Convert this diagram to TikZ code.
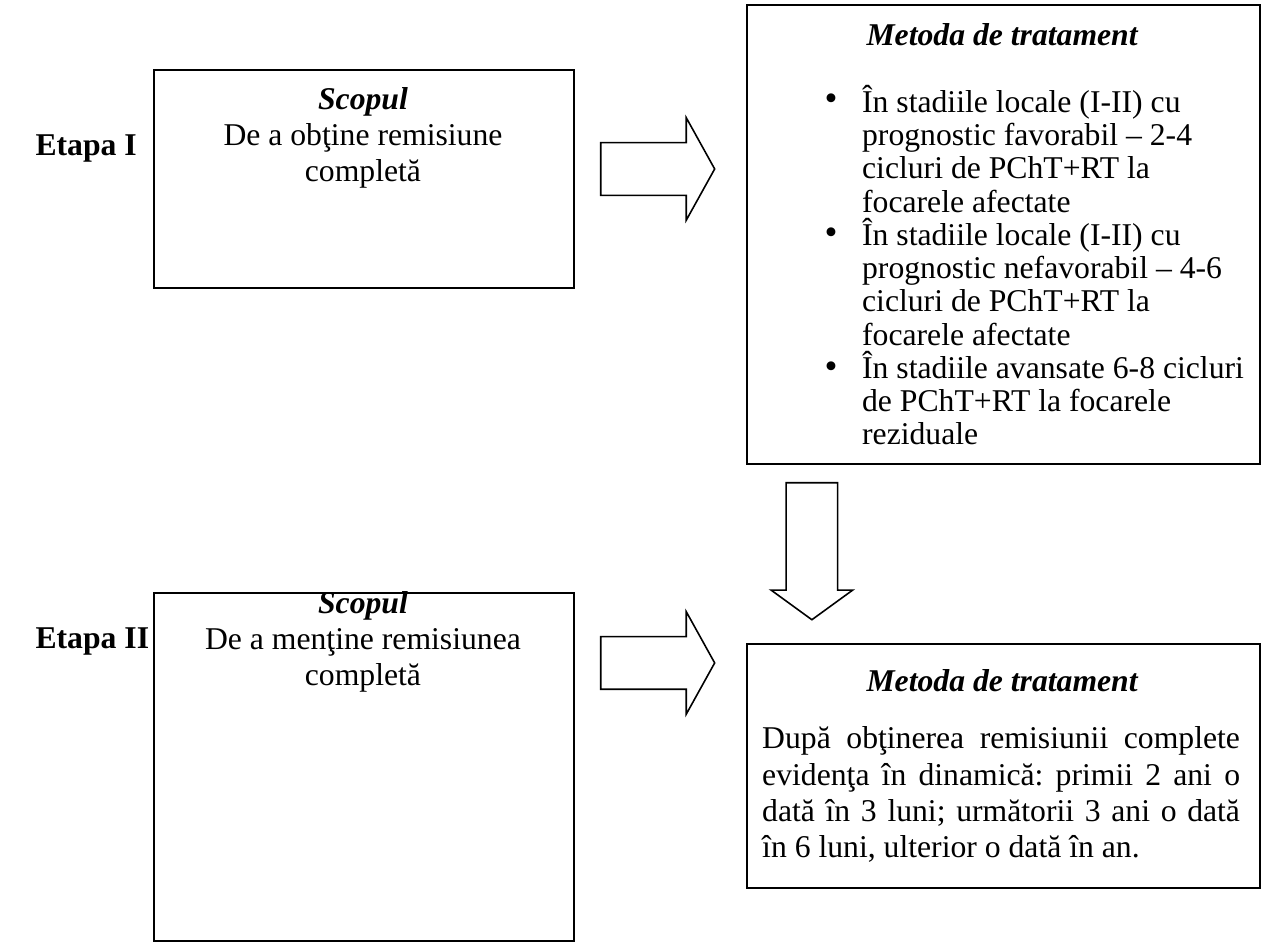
\documentclass[tikz,border=0pt]{standalone}
\usepackage{fontspec}
\setmainfont{Liberation Serif}
\usetikzlibrary{calc,positioning,shapes.arrows}
\frenchspacing

\begin{document}
\begin{tikzpicture}[
    every node/.style={font=\fontsize{12}{13.8}\selectfont, inner sep=0pt},
    box/.style={draw, line width=0.75pt, rectangle, minimum width=5.59cm, anchor=north west},
    widebox/.style={box, minimum width=6.83cm},
    bigarrow/.style={draw, line width=0.6pt, single arrow, inner xsep=0pt, inner ysep=0.34cm, minimum height=1.517cm, single arrow head extend=0.333cm, single arrow tip angle=122},
    boxtitle/.style={font=\fontsize{12}{13.8}\selectfont\bfseries\itshape, anchor=base},
    body/.style={align=center, anchor=base},
    etapa/.style={font=\fontsize{12}{13.8}\selectfont\bfseries, anchor=base west},
    dot/.style={font=\fontsize{14}{14}\selectfont, anchor=base west}
]
    \useasboundingbox (0,0) rectangle (16.92,-12.67);

    \node [etapa] (etI) at (0.466,-2.076) {Etapa I};
    \node [box, minimum height=2.902cm] (scopI) at (2.036,-0.918) {};
    \node [boxtitle] (scopIt) at (4.832,-1.451) {Scopul};
    \node [body] (scopIx) at (4.832,-2.422) {De a obţine remisiune\\completă};

    \node [widebox, minimum height=6.109cm] (metI) at (9.93,-0.053) {};
    \node [boxtitle] (metIt) at (13.34,-0.612) {Metoda de tratament};
    \node [anchor=base west, align=left, font=\fontsize{12}{12.6}\selectfont] (listI) at (11.47,-5.923) {În stadiile locale (I-II) cu\\prognostic favorabil – 2-4\\cicluri de PChT+RT la\\focarele afectate\\În stadiile locale (I-II) cu\\prognostic nefavorabil – 4-6\\cicluri de PChT+RT la\\focarele afectate\\În stadiile avansate 6-8 cicluri\\de PChT+RT la focarele\\reziduale};
    \node [dot] (b1) at (10.97,-1.477) {\textbullet};
    \node [dot] (b2) at (10.97,-3.256) {\textbullet};
    \node [dot] (b3) at (10.97,-5.034) {\textbullet};

    \node [bigarrow] (arrI) at ($(scopI.east)!.5!(scopI.east -| metI.west)+(-0.133,0.133)$) {};

    \node [etapa] (etII) at (0.466,-8.638) {Etapa II};
    \node [box, minimum height=4.632cm] (scopII) at (2.036,-7.88) {};
    \node [boxtitle] (scopIIt) at (4.832,-8.172) {Scopul};
    \node [body] (scopIIx) at (4.832,-9.131) {De a menţine remisiunea\\completă};

    \node [widebox, minimum height=3.248cm] (metII) at (9.93,-8.558) {};
    \node [boxtitle] (metIIt) at (13.34,-9.21) {Metoda de tratament};
    \node [anchor=base west, align=left] (listII) at (10.14,-11.42) {\makebox[6.36cm][s]{După obţinerea remisiunii complete}\\\makebox[6.36cm][s]{evidenţa în dinamică: primii 2 ani o}\\\makebox[6.36cm][s]{dată în 3 luni; următorii 3 ani o dată}\\în 6 luni, ulterior o dată în an.};

    \node [bigarrow] (arrII) at (arrI |- 0,-8.825) {};
    \node [bigarrow, rotate=-90, inner ysep=0.333cm, minimum height=1.824cm, single arrow head extend=0.2cm, single arrow tip angle=108] (arrdown) at ($(metI.south west)!.5!(metII.north west)+(0.878,0.16)$) {};
\end{tikzpicture}
\end{document}
